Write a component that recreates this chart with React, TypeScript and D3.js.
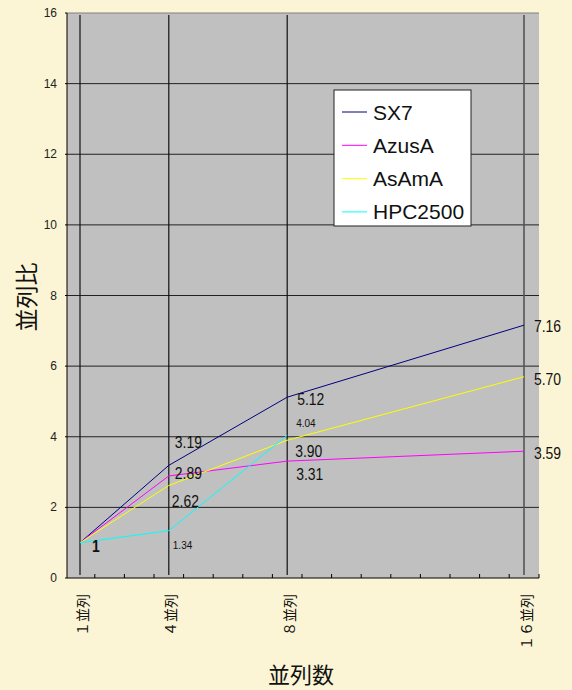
import React from "react";
import * as d3 from "d3";

// Parallel speed-up by node count for four machines
const categories = [1, 4, 8, 16];
const categoryLabels = ["１並列", "４並列", "８並列", "１６並列"];
const seriesNames = ["SX7", "AzusA", "AsAmA", "HPC2500"];
const sx7 = [1, 3.19, 5.12, 7.16];
const azusa = [1, 2.89, 3.31, 3.59];
const asama = [1, 2.62, 3.9, 5.7];
const hpc2500 = [1, 1.34, 4.04];
const yTicks = [0, 2, 4, 6, 8, 10, 12, 14, 16];

const seriesValues = [sx7, azusa, asama, hpc2500];
const seriesColors = ["#000080", "#ff00ff", "#ffff00", "#00ffff"];

// Label placement: [series, point index, dx, dy, font size, bold]
const labelStyle: [number, number, number, number, number, boolean][] = [
  [0, 1, 6, -23, 16, false],
  [1, 1, 6, -3, 16, false],
  [2, 1, 3, 16, 16, false],
  [3, 1, 4, 14, 11.5, false],
  [0, 3, 10, 1, 16, false],
  [1, 3, 10, 2, 16, false],
  [2, 3, 10, 2, 16, false],
  [0, 2, 10, 2, 16, false],
  [3, 2, 9, -13, 11.5, false],
  [2, 2, 8, 11, 16, false],
  [1, 2, 9, 13, 16, false],
  [3, 0, 12, 3, 16, true],
];

const W = 572;
const H = 690;
const left = 67;
const right = 539;
const top = 13;
const bottom = 578;

export default function App() {
  const x = d3.scaleLinear().domain([1, 16]).range([80, 524]);
  const y = d3.scaleLinear().domain([0, 16]).range([bottom, top]);
  const line = d3
    .line<number>()
    .x((_, i) => x(categories[i]))
    .y((d) => y(d));
  const minorTicks = d3.range(1.5, 16.5, 1);
  const font = "'Liberation Sans', Arial, sans-serif";
  const cjk = "'Noto Sans CJK JP', sans-serif";

  return (
    <svg
      width={W}
      height={H}
      style={{ position: "absolute", left: 0, top: 0, display: "block" }}
    >
      <rect x={0} y={0} width={W} height={H} fill="#fbf5d5" />
      <rect x={left} y={top} width={right - left} height={bottom - top} fill="#c0c0c0" />
      {/* horizontal gridlines */}
      {yTicks.slice(1, -1).map((t) => (
        <line key={t} x1={left} x2={right} y1={y(t)} y2={y(t)} stroke="#222" strokeWidth={1} />
      ))}
      <line x1={left} x2={right} y1={top} y2={top} stroke="#808080" strokeWidth={1} />
      {/* vertical category lines */}
      {categories.map((c) => (
        <line
          key={c}
          x1={x(c)}
          x2={x(c)}
          y1={top + 2}
          y2={bottom - 3}
          stroke={c === 16 ? "#555" : "#111"}
          strokeWidth={c === 16 ? 1.6 : 1.2}
        />
      ))}
      {/* axes */}
      <line x1={left} x2={left} y1={top} y2={bottom} stroke="#000" strokeWidth={1} />
      <line x1={left} x2={right} y1={bottom} y2={bottom} stroke="#000" strokeWidth={1.2} />
      {minorTicks.map((t) => (
        <line key={t} x1={x(t)} x2={x(t)} y1={bottom} y2={bottom - 4} stroke="#000" strokeWidth={1} />
      ))}
      <line x1={right} x2={right} y1={bottom} y2={bottom - 4} stroke="#000" strokeWidth={1} />
      {yTicks.map((t) => (
        <g key={t}>
          <line x1={left - 2} x2={left} y1={y(t)} y2={y(t)} stroke="#000" />
          <text
            x={57}
            y={y(t)}
            textAnchor="end"
            dominantBaseline="central"
            fontFamily={font}
            fontSize={12}
            fill="#222"
          >
            {t}
          </text>
        </g>
      ))}
      {/* series */}
      {seriesValues.map((vals, i) => (
        <path key={i} d={line(vals) || ""} fill="none" stroke={seriesColors[i]} strokeWidth={1} />
      ))}
      {/* value labels */}
      {labelStyle.map(([s, idx, dx, dy, fs, bold], k) => {
        const v = seriesValues[s][idx];
        const txt = idx === 0 ? String(v) : v.toFixed(2);
        return (
          <text
            key={k}
            transform={`translate(${x(categories[idx]) + dx},${y(v) + dy}) scale(0.87,1)`}
            dominantBaseline="central"
            fontFamily={font}
            fontSize={fs}
            fontWeight={bold ? "bold" : "normal"}
            fill="#111"
          >
            {txt}
          </text>
        );
      })}
      {/* category labels */}
      {categories.map((c, i) => (
        <text
          key={c}
          transform={`translate(${x(c) + 1.5},594) rotate(-90)`}
          textAnchor="end"
          dominantBaseline="central"
          fontFamily={cjk}
          fontSize={14}
          fill="#111"
        >
          {categoryLabels[i]}
        </text>
      ))}
      {/* axis titles */}
      <text
        transform="translate(25,297) rotate(-90)"
        textAnchor="middle"
        dominantBaseline="central"
        fontFamily={cjk}
        fontSize={23}
        fill="#111"
      >
        並列比
      </text>
      <text
        x={301}
        y={673}
        textAnchor="middle"
        dominantBaseline="central"
        fontFamily={cjk}
        fontSize={22}
        fill="#111"
      >
        並列数
      </text>
      {/* legend */}
      <g>
        <rect x={334} y={90} width={137} height={136} fill="#fff" stroke="#222" strokeWidth={1} />
        {seriesNames.map((n, i) => {
          const cy = 112 + i * 33.3;
          return (
            <g key={n}>
              <line x1={342} x2={367} y1={cy} y2={cy} stroke={seriesColors[i]} strokeWidth={1} />
              <text
                x={373}
                y={cy}
                dominantBaseline="central"
                fontFamily={font}
                fontSize={21}
                fill="#111"
              >
                {n}
              </text>
            </g>
          );
        })}
      </g>
    </svg>
  );
}
